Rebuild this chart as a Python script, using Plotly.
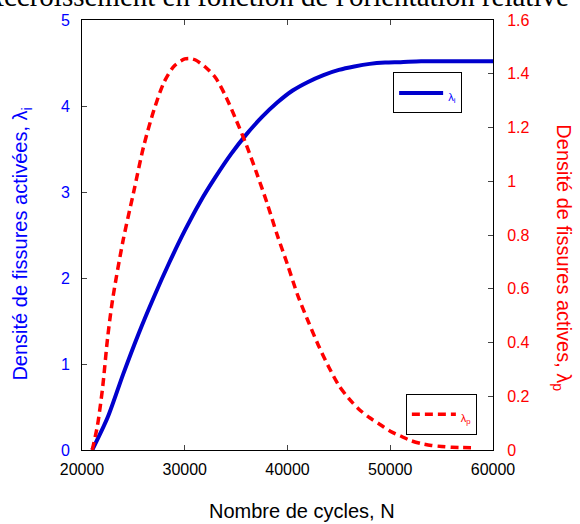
import plotly.graph_objects as go

# --- data ---
N_i = [21000, 22500, 24000, 25500, 27000, 28500, 30000, 31500, 33000, 34500,
       36000, 37500, 39000, 40500, 42000, 43500, 45000, 46500, 48000, 49500,
       51000, 53000, 55000, 60000]
lambda_i = [0, 0.38, 0.88, 1.35, 1.78, 2.18, 2.55, 2.885, 3.175, 3.44,
            3.67, 3.87, 4.04, 4.18, 4.28, 4.36, 4.42, 4.46, 4.49, 4.505,
            4.51, 4.52, 4.52, 4.52]

N_p = [21000, 21500, 22000, 22500, 23000, 24000, 25000, 26000, 27000, 28000,
       29000, 30000, 30500, 31000, 32000, 33000, 34000, 35000, 36000, 37000,
       38000, 39000, 40000, 41000, 42000, 43000, 44000, 45000, 46000, 47000,
       48000, 49000, 50000, 51000, 52000, 53000, 54000, 55000, 56000, 57000, 58300]
lambda_p = [0, 0.09, 0.23, 0.42, 0.565, 0.78, 0.955, 1.13, 1.265, 1.37,
            1.43, 1.455, 1.457, 1.452, 1.425, 1.385, 1.315, 1.228, 1.135, 1.03,
            0.92, 0.80, 0.69, 0.575, 0.48, 0.39, 0.31, 0.24, 0.19, 0.15,
            0.12, 0.095, 0.07, 0.052, 0.035, 0.024, 0.017, 0.013, 0.01, 0.009, 0.008]

x_ticks = [20000, 30000, 40000, 50000, 60000]

BLUE_LINE = "rgb(0,0,205)"
BLUE = "rgb(0,0,255)"
RED = "rgb(255,0,0)"
FONT = "Liberation Sans, Arial, sans-serif"

fig = go.Figure()
fig.add_trace(go.Scatter(x=N_i, y=lambda_i, mode="lines",
                         name='<span style="font-size:11px">λ<sub>i</sub></span>',
                         line=dict(color=BLUE_LINE, width=4, shape="spline", smoothing=0.8),
                         legend="legend"))
fig.add_trace(go.Scatter(x=N_p, y=lambda_p, mode="lines",
                         name='<span style="font-size:11px">λ<sub>p</sub></span>',
                         line=dict(color=RED, width=3.5, dash="8px,5px",
                                   shape="spline", smoothing=0.8),
                         yaxis="y2", legend="legend2"))

axis_common = dict(showgrid=False, zeroline=False, showline=True, linecolor="black",
                   linewidth=1, ticks="inside", ticklen=5, tickcolor="#444")

fig.update_layout(
    width=580, height=524,
    margin=dict(l=82, r=87, t=18, b=74),
    paper_bgcolor="white", plot_bgcolor="white",
    font=dict(family=FONT, size=16, color="black"),
    xaxis=dict(range=[20000, 60000], tickvals=x_ticks, ticktext=[str(v) for v in x_ticks],
               mirror="ticks", ticklabelstandoff=5, **axis_common),
    yaxis=dict(range=[0, 5], dtick=1, tickfont=dict(color=BLUE), ticklabelstandoff=8,
               **axis_common),
    yaxis2=dict(range=[0, 1.6], dtick=0.2, overlaying="y", side="right",
                tickfont=dict(color=RED), ticklabelstandoff=10, **axis_common),
    legend=dict(x=0.757, y=0.878, xanchor="left", yanchor="top",
                bordercolor="black", borderwidth=1, bgcolor="white",
                font=dict(size=20, color=BLUE), itemwidth=44),
    legend2=dict(x=0.788, y=0.131, xanchor="left", yanchor="top",
                 bordercolor="black", borderwidth=1, bgcolor="white",
                 font=dict(size=20, color=RED), itemwidth=44),
    showlegend=True,
)

annotations = [
    dict(text="Accroissement en fonction de l'orientation relative",
         xref="paper", yref="paper", x=0.472, y=1.0, xanchor="center", yanchor="bottom",
         yshift=6, showarrow=False,
         font=dict(family="Liberation Serif, Times New Roman, serif", size=29, color="black")),
    dict(text="Densité de fissures activées, λ<sub>i</sub>",
         xref="paper", yref="paper", x=-0.146, y=0.48, xanchor="center", yanchor="middle",
         textangle=-90, showarrow=False, font=dict(size=20, color=BLUE)),
    dict(text="Densité de fissures actives, λ<sub>p</sub>",
         xref="paper", yref="paper", x=1.170, y=0.446, xanchor="center", yanchor="middle",
         textangle=90, showarrow=False, font=dict(size=20, color=RED)),
    dict(text="Nombre de cycles, N",
         xref="paper", yref="paper", x=0.535, y=-0.142, xanchor="center", yanchor="middle",
         showarrow=False, font=dict(size=20, color="black")),
]
fig.update_layout(annotations=annotations)

fig.write_html("out.html", config={"displayModeBar": False},
               post_script="document.body.style.margin='0';")
